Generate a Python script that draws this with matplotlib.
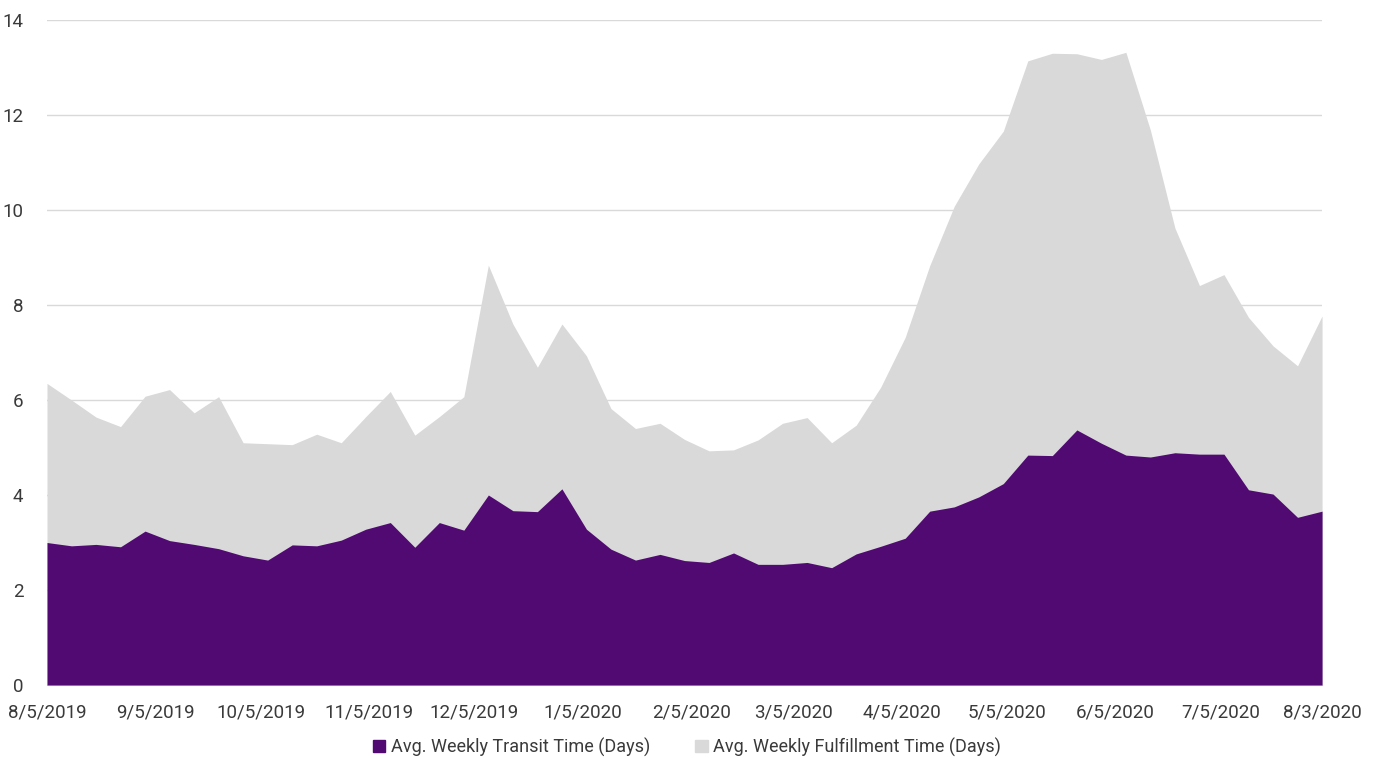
import matplotlib
matplotlib.use("Agg")
from matplotlib import pyplot as plt
from matplotlib.patches import Patch
import numpy as np
import pandas as pd

plt.rcParams['font.family'] = ['Roboto', 'DejaVu Sans']

weeks = pd.date_range("2019-08-05", periods=53, freq="7D")

fulfillment = [6.35, 6.00, 5.64, 5.44, 6.08, 6.22, 5.73, 6.07, 5.10, 5.08,
               5.06, 5.28, 5.10, 5.65, 6.18, 5.26, 5.65, 6.07, 8.84, 7.60,
               6.69, 7.60, 6.93, 5.82, 5.40, 5.51, 5.17, 4.93, 4.95, 5.16,
               5.51, 5.63, 5.10, 5.47, 6.27, 7.32, 8.83, 10.08, 10.97, 11.66,
               13.14, 13.30, 13.29, 13.17, 13.32, 11.68, 9.62, 8.41, 8.64, 7.74,
               7.14, 6.72, 7.77]

transit = [3.00, 2.93, 2.96, 2.91, 3.24, 3.04, 2.96, 2.87, 2.72, 2.63,
           2.95, 2.93, 3.05, 3.28, 3.42, 2.90, 3.42, 3.26, 4.00, 3.67,
           3.65, 4.13, 3.28, 2.86, 2.63, 2.75, 2.62, 2.58, 2.78, 2.54,
           2.54, 2.58, 2.47, 2.76, 2.92, 3.09, 3.66, 3.75, 3.96, 4.24,
           4.84, 4.83, 5.37, 5.09, 4.84, 4.80, 4.89, 4.86, 4.86, 4.11,
           4.02, 3.53, 3.66]

tick_dates = ["2019-08-05", "2019-09-05", "2019-10-05", "2019-11-05", "2019-12-05",
              "2020-01-05", "2020-02-05", "2020-03-05", "2020-04-05", "2020-05-05",
              "2020-06-05", "2020-07-05", "2020-08-03"]

purple = "#500A72"
grey = "#D9D9D9"
text_col = "#3A3A3A"

fig = plt.figure(figsize=(13.74, 7.58), dpi=100)
ax = fig.add_axes([0.0342, 0.0963, 0.928, 0.8773])

ax.fill_between(weeks, 0, fulfillment, color=grey, linewidth=0, zorder=2)
ax.fill_between(weeks, 0, transit, color=purple, linewidth=0, zorder=3)

ax.set_xlim(weeks[0], weeks[-1])
ax.set_ylim(0, 14)
ax.set_yticks(np.arange(0, 15, 2))
ax.yaxis.grid(True, color="#D9D9D9", linewidth=1, zorder=0)
ax.set_axisbelow(True)

ticks = pd.to_datetime(tick_dates)
ax.set_xticks(ticks)
ax.set_xticklabels([f"{d.month}/{d.day}/{d.year}" for d in ticks])

for s in ["top", "right", "left"]:
    ax.spines[s].set_visible(False)
ax.spines["bottom"].set_color("#D9D9D9")
ax.tick_params(axis="both", length=0, labelsize=13.5, labelcolor=text_col)
ax.tick_params(axis="x", pad=13)
ax.tick_params(axis="y", pad=17)

handles = [Patch(color=purple, label="Avg. Weekly Transit Time (Days)"),
           Patch(color=grey, label="Avg. Weekly Fulfillment Time (Days)")]
leg = fig.legend(handles=handles, loc="lower center", bbox_to_anchor=(0.5, -0.01),
                 borderaxespad=0.1, ncol=2, frameon=False, fontsize=13,
                 handlelength=0.7, handleheight=0.7, handletextpad=0.3,
                 columnspacing=2.5)
for t in leg.get_texts():
    t.set_color(text_col)

fig.savefig("out.png", dpi=100)
